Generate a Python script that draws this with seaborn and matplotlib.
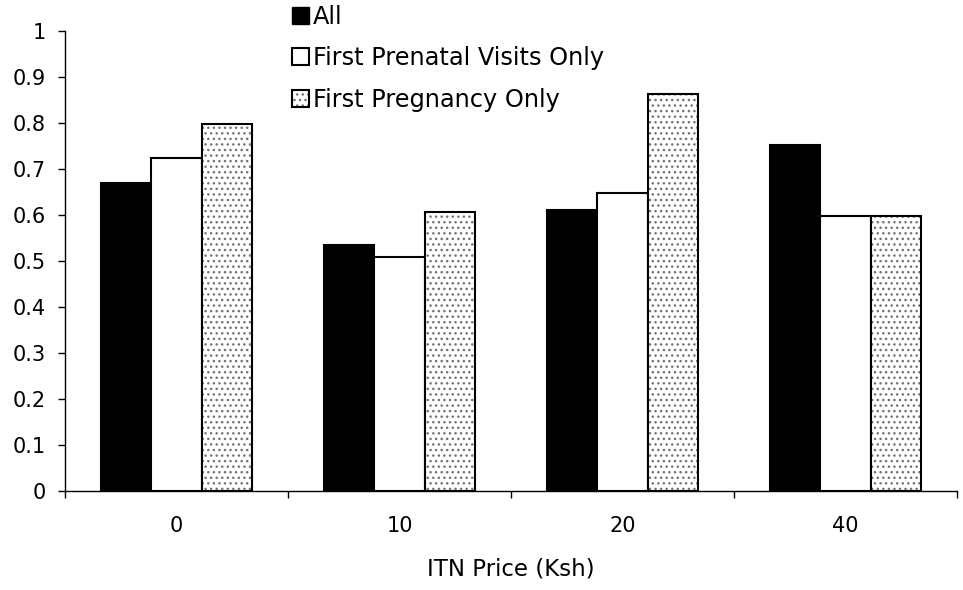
import matplotlib
matplotlib.use("Agg")
import matplotlib.pyplot as plt
import seaborn as sns
import pandas as pd
from matplotlib.patches import Patch

prices = ["0", "10", "20", "40"]
series = ["All", "First Prenatal Visits Only", "First Pregnancy Only"]
all_vals = [0.670, 0.534, 0.611, 0.752]
prenatal_vals = [0.723, 0.509, 0.647, 0.598]
pregnancy_vals = [0.797, 0.607, 0.862, 0.598]
yticks = [0, 0.1, 0.2, 0.3, 0.4, 0.5, 0.6, 0.7, 0.8, 0.9, 1]

rows = []
for s, vals in zip(series, [all_vals, prenatal_vals, pregnancy_vals]):
    for p, v in zip(prices, vals):
        rows.append({"price": p, "series": s, "value": v})
df = pd.DataFrame(rows)

sns.set_theme(style="white")
plt.rcParams["font.family"] = ["DejaVu Sans"]
plt.rcParams["text.color"] = "black"
plt.rcParams["hatch.linewidth"] = 1.0

fig = plt.figure(figsize=(9.63, 5.9), dpi=100)
ax = fig.add_axes([65/963, 1 - 491/590, (957-65)/963, (491-31)/590])

colors = ["black", "white", "white"]
sns.barplot(data=df, x="price", y="value", hue="series", order=prices,
            hue_order=series, palette=colors, edgecolor="black", linewidth=1.5,
            width=0.68, gap=0, ax=ax, legend=False, errorbar=None, saturation=1)

dot_gray = (0.45, 0.45, 0.45, 1)
for cont in ax.containers[2:3]:
    for p in cont:
        p.set_hatch("...")
        p._hatch_color = dot_gray
        p.stale = True

ax.set_ylim(0, 1)
ax.set_xlim(-0.5, 3.5)
ax.set_yticks(yticks)
ax.set_yticklabels(["0"] + [f"{t:g}" for t in yticks[1:]], fontsize=15)
ax.tick_params(axis="y", which="both", left=True, length=5, width=1, color="black", pad=9)
ax.set_xticks(range(len(prices)))
ax.set_xticklabels(prices, fontsize=15)
ax.set_xticks([-0.5, 0.5, 1.5, 2.5, 3.5], minor=True)
ax.tick_params(axis="x", which="major", bottom=False, length=0, pad=18)
ax.tick_params(axis="x", which="minor", bottom=True, length=5, width=1, color="black")
ax.set_xlabel("ITN Price (Ksh)", fontsize=16.5, color="black", va="top")
ax.xaxis.set_label_coords(0.5, -(557 - 491) / 460)
ax.set_ylabel("")
for s in ["top", "right"]:
    ax.spines[s].set_visible(False)
for s in ["left", "bottom"]:
    ax.spines[s].set_color("black")
    ax.spines[s].set_linewidth(1)
ax.tick_params(colors="black", labelcolor="black")

h1 = Patch(facecolor="black", edgecolor="black", linewidth=1)
h2 = Patch(facecolor="white", edgecolor="black", linewidth=1.5)
h3 = Patch(facecolor="white", edgecolor="black", linewidth=1.5, hatch="...")
h3._hatch_color = dot_gray
leg = fig.legend([h1, h2, h3], series, loc="upper left",
                 bbox_to_anchor=(292/963, 1 - 5/590), frameon=False,
                 fontsize=17.3, handlelength=0.72, handleheight=0.72,
                 handletextpad=0.15, labelspacing=0.72, borderpad=0, borderaxespad=0)
for t in leg.get_texts():
    t.set_color("black")

fig.savefig("out.png", dpi=100)
